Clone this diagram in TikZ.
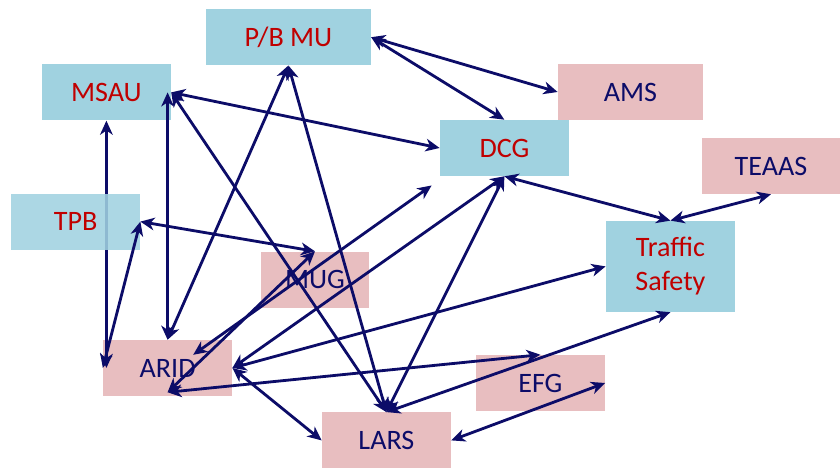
\documentclass[tikz,border=0pt]{standalone}
\usepackage{fontspec}
\setmainfont{Carlito}
\usepackage{tikz}
\usetikzlibrary{positioning, arrows.meta}

\definecolor{boxblue}{RGB}{160,210,224}
\definecolor{boxpink}{RGB}{232,190,192}
\definecolor{textred}{RGB}{192,0,0}
\definecolor{navy}{RGB}{12,12,104}

\begin{document}
\begin{tikzpicture}[
    blueunit/.style={rectangle, fill=boxblue, text=textred, minimum width=3.225cm, minimum height=1.4cm, inner sep=0pt, align=center, font=\fontsize{20}{24}\selectfont},
    pinkunit/.style={blueunit, fill=boxpink, text=navy},
    link/.style={<->, >={Stealth[length=10pt,width=9pt,inset=3pt]}, line width=2pt, draw=navy}
]
\useasboundingbox (0,0) rectangle (21,-11.7);

% Units
\node[blueunit, minimum width=4.125cm] (pbmu) at (7.21,-0.93) {P/B MU};
\node[blueunit] (msau) at (2.66,-2.31) {MSAU};
\node[pinkunit, minimum width=3.625cm] (ams) at (15.76,-2.30) {AMS};
\node[blueunit] (dcg) at (12.61,-3.70) {DCG};
\node[pinkunit, minimum width=3.45cm] (teaas) at (19.275,-4.15) {TEAAS};
\node[pinkunit, minimum width=2.7cm] (mug) at (7.875,-6.99) {MUG};
\node[blueunit, minimum height=2.275cm] (ts) at (16.76,-6.66) {Traffic\\Safety};
\node[pinkunit] (arid) at (4.19,-9.20) {ARID};
\node[pinkunit] (efg) at (13.51,-9.575) {EFG};
\node[pinkunit] (lars) at (9.66,-11.01) {LARS};

% Free ends
\coordinate (aridtop) at ([shift={(0.64,0.33)}]arid.center);
\coordinate (aridlow) at ([yshift=0.1cm]arid.south);
\coordinate (dcgnear) at ([shift={(-0.2,-0.23)}]dcg.south west);

% Long link behind TPB
\draw[link] (msau.south) -- (msau.south |- arid.west);
\node[blueunit, fill opacity=0.88, text opacity=1] (tpb) at (1.89,-5.54) {TPB};

% Arrows
\draw[link] (tpb.east) -- (arid.west);
\draw[link] (tpb.east) -- (mug.north);
\draw[link] (arid.north) -- (arid.north |- msau.east);
\draw[link] (msau.east) -- (lars.north);
\draw[link] (msau.east) -- (dcg.west);
\draw[link] (pbmu.south) -- (arid.north);
\draw[link] (pbmu.south) -- (lars.north);
\draw[link] (pbmu.east) -- (ams.west);
\draw[link] (pbmu.east) -- (dcg.north);
\draw[link] (dcg.south) -- (ts.north);
\draw[link] (ts.north) -- (teaas.south);
\draw[link] (aridtop) -- (dcgnear);
\draw[link] (arid.east) -- (dcg.south);
\draw[link] (aridlow) -- (mug.north);
\draw[link] (arid.east) -- (ts.west);
\draw[link] (arid.east) -- (lars.west);
\draw[link] (aridlow) -- (efg.north);
\draw[link] (ts.south) -- (lars.north);
\draw[link] (lars.east) -- (efg.east);
\draw[link] (dcg.south) -- (lars.north);

\end{tikzpicture}
\end{document}
